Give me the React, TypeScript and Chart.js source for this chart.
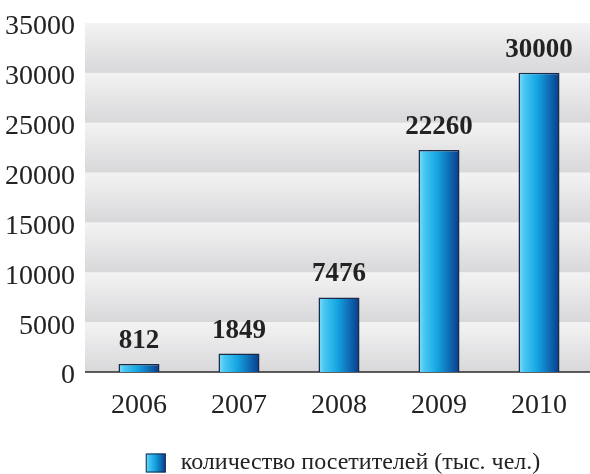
import React, { useEffect, useRef } from "react";
import { Chart, registerables } from "chart.js";

Chart.register(...registerables);

const categories = ["2006", "2007", "2008", "2009", "2010"];
const visitors = [812, 1849, 7476, 22260, 30000];
const valueLabels = ["812", "1849", "7476", "22260", "30000"];
const legendLabel = "количество посетителей (тыс. чел.)";
const yMax = 35000;
const yStep = 5000;

const FONT = "'Liberation Serif', 'Times New Roman', serif";

function barGradient(ctx: CanvasRenderingContext2D, x0: number, x1: number) {
  const g = ctx.createLinearGradient(x0, 0, x1, 0);
  g.addColorStop(0, "#84ddf9");
  g.addColorStop(0.15, "#45c6f2");
  g.addColorStop(0.45, "#16a6e2");
  g.addColorStop(0.8, "#0d62ad");
  g.addColorStop(1, "#0a3a86");
  return g;
}

const bandsPlugin = {
  id: "bands",
  beforeDatasetsDraw(chart: any) {
    const { ctx, chartArea, scales } = chart;
    const y = scales.y;
    const left = chartArea.left - 4;
    const right = chartArea.right + 2;
    ctx.save();
    for (let v = 0; v < yMax; v += yStep) {
      const yb = y.getPixelForValue(v);
      const yt = y.getPixelForValue(v + yStep);
      const g = ctx.createLinearGradient(0, yt, 0, yb);
      g.addColorStop(0, "#f3f3f4");
      g.addColorStop(1, "#d8d8da");
      ctx.fillStyle = g;
      ctx.fillRect(left, yt, right - left, yb - yt);
    }
    const y0 = y.getPixelForValue(0);
    ctx.strokeStyle = "#2a2a2a";
    ctx.lineWidth = 1.5;
    ctx.beginPath();
    ctx.moveTo(left, y0);
    ctx.lineTo(right, y0);
    ctx.stroke();
    ctx.restore();
  },
};

const labelsPlugin = {
  id: "valueLabels",
  afterDatasetsDraw(chart: any) {
    const { ctx, chartArea } = chart;
    const meta = chart.getDatasetMeta(0);
    ctx.save();
    ctx.font = `bold 27px ${FONT}`;
    ctx.fillStyle = "#222";
    ctx.textAlign = "center";
    ctx.textBaseline = "alphabetic";
    meta.data.forEach((el: any, i: number) => {
      ctx.fillText(valueLabels[i], el.x, el.y - 16);
    });

    // legend
    ctx.font = `24px ${FONT}`;
    const tw = ctx.measureText(legendLabel).width;
    const boxW = 20;
    const boxH = 19;
    const gap = 15;
    const total = boxW + gap + tw;
    const cx = (chartArea.left + chartArea.right) / 2 + 4;
    const lx = cx - total / 2;
    const ly = 463;
    ctx.fillStyle = barGradient(ctx, lx, lx + boxW);
    ctx.fillRect(lx, ly - boxH / 2, boxW, boxH);
    ctx.strokeStyle = "#1c2a48";
    ctx.lineWidth = 1;
    ctx.strokeRect(lx + 0.5, ly - boxH / 2 + 0.5, boxW - 1, boxH - 1);
    ctx.fillStyle = "#222";
    ctx.textAlign = "left";
    ctx.textBaseline = "middle";
    ctx.fillText(legendLabel, lx + boxW + gap, ly);
    ctx.restore();
  },
};

export default function App() {
  const ref = useRef<HTMLCanvasElement>(null);
  useEffect(() => {
    if (!ref.current) return;
    const chart = new Chart(ref.current, {
      type: "bar",
      data: {
        labels: categories,
        datasets: [
          {
            label: legendLabel,
            data: visitors,
            backgroundColor: (c: any) => {
              const chart = c.chart;
              const xs = chart.scales?.x;
              if (!xs || c.dataIndex === undefined) return "#16a6e2";
              const cxp = xs.getPixelForValue(c.dataIndex);
              const w = (xs.width / categories.length) * 0.41;
              if (!isFinite(cxp) || !isFinite(w) || w <= 0) return "#16a6e2";
              return barGradient(chart.ctx, cxp - w / 2, cxp + w / 2);
            },
            borderColor: "#1c2a48",
            borderWidth: 1.5,
            barPercentage: 0.41,
            categoryPercentage: 1,
          },
        ],
      },
      options: {
        animation: false,
        responsive: true,
        maintainAspectRatio: false,
        layout: { padding: { top: 23, right: 1, left: 0, bottom: 0 } },
        plugins: {
          legend: { display: false },
          tooltip: { enabled: false },
        },
        scales: {
          x: {
            grid: { display: false, drawTicks: false },
            border: { display: false },
            ticks: {
              color: "#222",
              font: { family: FONT, size: 28 },
              padding: 17,
            },
            afterFit: (s: any) => {
              s.height = 102;
              s.paddingLeft = 0;
              s.paddingRight = 0;
            },
          },
          y: {
            min: 0,
            max: yMax,
            grid: { display: false, drawTicks: false },
            border: { display: false },
            ticks: {
              stepSize: yStep,
              color: "#222",
              font: { family: FONT, size: 28 },
              padding: 14,
              labelOffset: 4,
              callback: (v: any) => String(v),
            },
            afterFit: (s: any) => {
              s.width = 89;
              s.paddingTop = 0;
              s.paddingBottom = 0;
            },
          },
        },
      },
      plugins: [bandsPlugin, labelsPlugin],
    });
    return () => chart.destroy();
  }, []);
  return (
    <div style={{ position: "fixed", left: 0, top: 0, width: 590, height: 474, background: "#fff" }}>
      <canvas ref={ref} />
    </div>
  );
}
